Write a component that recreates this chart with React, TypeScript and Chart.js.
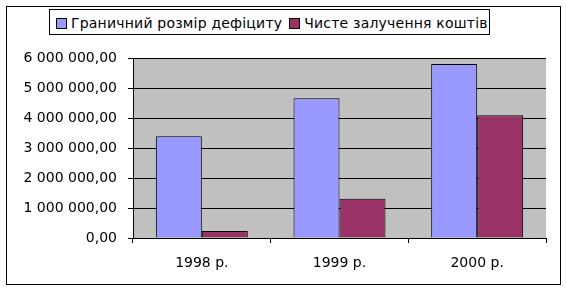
import React, { useEffect, useRef } from "react";
import { Chart, registerables } from "chart.js";

Chart.register(...registerables);

const categories = ["1998 р.", "1999 р.", "2000 р."];
const seriesNames = ["Граничний розмір дефіциту", "Чисте залучення коштів"];
const deficitLimit = [3390000, 4660000, 5800000];
const netBorrowing = [235000, 1310000, 4090000];
const yTicks = [0, 1000000, 2000000, 3000000, 4000000, 5000000, 6000000];
const colors = ["#9999FF", "#993366"];

const fmt = (v: number) => {
  const s = Math.round(v).toString().replace(/\B(?=(\d{3})+(?!\d))/g, " ");
  return s + ",00";
};

const FONT = "'DejaVu Sans', sans-serif";

const bgPlugin = {
  id: "bgPlugin",
  beforeDraw(chart: any) {
    const { ctx, chartArea } = chart;
    ctx.save();
    ctx.fillStyle = "#ffffff";
    ctx.fillRect(0, 0, chart.width, chart.height);
    ctx.fillStyle = "#C0C0C0";
    ctx.fillRect(chartArea.left, chartArea.top, chartArea.right - chartArea.left, chartArea.bottom - chartArea.top);
    ctx.strokeStyle = "#000";
    ctx.lineWidth = 1;
    ctx.strokeRect(6.5, 6.5, 554, 278);
    ctx.restore();
  },
};

export default function App() {
  const ref = useRef<HTMLCanvasElement>(null);
  useEffect(() => {
    document.body.style.margin = "0";
    const chart = new Chart(ref.current!, {
      type: "bar",
      data: {
        labels: categories,
        datasets: [
          {
            label: seriesNames[0],
            data: deficitLimit,
            backgroundColor: colors[0],
            borderColor: "#000",
            borderWidth: 1,
            categoryPercentage: 0.668,
            barPercentage: 1,
          },
          {
            label: seriesNames[1],
            data: netBorrowing,
            backgroundColor: colors[1],
            borderColor: "#000",
            borderWidth: 1,
            categoryPercentage: 0.668,
            barPercentage: 1,
          },
        ],
      },
      options: {
        animation: false,
        responsive: false,
        layout: { padding: { left: 6, right: 20, top: 58, bottom: 0 } },
        plugins: { legend: { display: false }, tooltip: { enabled: false } },
        scales: {
          x: {
            afterFit: (s: any) => { s.height = 51; },
            grid: { drawOnChartArea: false, color: "#000", tickLength: 5, offset: true },
            border: { color: "#000" },
            ticks: { color: "#000", font: { family: FONT, size: 14 }, padding: 12 },
          },
          y: {
            min: 0,
            max: 6000000,
            afterFit: (s: any) => { s.width = 127; },
            afterBuildTicks: (s: any) => { s.ticks = yTicks.map((v) => ({ value: v })); },
            grid: { color: "#000", tickLength: 5 },
            border: { color: "#000" },
            ticks: { color: "#000", font: { family: FONT, size: 14 }, padding: 11, callback: (v: any) => fmt(Number(v)) },
          },
        },
      },
      plugins: [bgPlugin],
    });
    return () => chart.destroy();
  }, []);

  const sw = (c: string) => ({
    display: "inline-block",
    width: 9,
    height: 9,
    background: c,
    border: "1px solid #000",
    marginRight: 4,
    verticalAlign: "middle",
  });

  return (
    <div style={{ position: "fixed", left: 0, top: 0, width: 566, height: 289 }}>
      <canvas ref={ref} width={566} height={289} style={{ display: "block" }} />
      <div
        style={{
          position: "absolute",
          left: 49,
          top: 9,
          width: 441,
          height: 26,
          border: "1px solid #000",
          fontFamily: FONT,
          fontSize: 14,
          lineHeight: "24px",
          whiteSpace: "nowrap",
          paddingLeft: 6,
          boxSizing: "border-box",
          background: "#fff",
          letterSpacing: 0.2,
        } as any}
      >
        <span style={sw(colors[0])} />
        <span style={{ verticalAlign: "middle", marginRight: 7 }}>{seriesNames[0]}</span>
        <span style={sw(colors[1])} />
        <span style={{ verticalAlign: "middle" }}>{seriesNames[1]}</span>
      </div>
    </div>
  );
}
